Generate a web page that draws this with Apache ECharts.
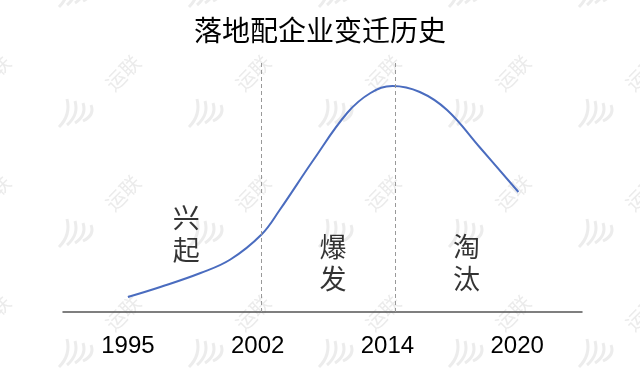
<!DOCTYPE html>
<html>
<head>
<meta charset="utf-8">
<script src="https://cdn.jsdelivr.net/npm/echarts@6/dist/echarts.min.js"></script>
<style>html,body{margin:0;padding:0;background:#fff;}#chart{width:640px;height:377px;}</style>
</head>
<body>
<div id="chart"></div>
<script>
// Data
var categories = ['1995', '2002', '2014', '2020'];
// curve: x as position along the category axis (0..4, band centres at 0.5,1.5,2.5,3.5), y as relative level
var curveX = [0.5, 0.75, 1.06, 1.29, 1.53, 1.67, 1.93, 2.19, 2.37, 2.54, 2.75, 2.96, 3.21, 3.51];
var curveY = [6, 10, 15.6, 21, 31, 40.8, 60.8, 79.6, 87.6, 90.4, 88, 80.8, 66, 48];
var dividerX = [1.53, 2.56];
var phaseLabels = ['兴起', '爆发', '淘汰'];
var phaseX = [0.95, 2.08, 3.11];
var phaseY = [31.2, 19.8, 19.8];
var watermarkText = '运联';

var chart = echarts.init(document.getElementById('chart'), null, {renderer: 'canvas'});
var cjk = '"PingFang SC","Noto Sans CJK SC","Liberation Sans",sans-serif';
var curveData = curveX.map(function (x, i) { return [x, curveY[i]]; });
var phaseData = phaseX.map(function (x, i) { return {value: [x, phaseY[i]], name: phaseLabels[i]}; });

// faint background watermark pattern
var wm = [];
var cols = [-53, 77, 207, 337, 467, 597];
var rows = [-7, 113, 233, 353];
cols.forEach(function (lx) {
  rows.forEach(function (ly) {
    wm.push({
      type: 'text', x: lx + 46, y: ly - 40, rotation: Math.PI / 4, z: -10, silent: true,
      style: {text: watermarkText, fill: '#ebebeb', font: '20px "Noto Sans CJK SC", sans-serif', align: 'center', verticalAlign: 'middle'}
    });
    for (var k = 0; k < 4; k++) {
      var ox = lx - 14 + k * 8, oy = ly;
      wm.push({
        type: 'bezierCurve', z: -10, silent: true,
        shape: {x1: ox - 4, y1: oy + 14 - k * 2, x2: ox + 4, y2: oy - 14 + k * 2, cpx1: ox + 8, cpy1: oy + 2},
        style: {stroke: '#ececec', lineWidth: 3, fill: null}
      });
    }
  });
});

var option = {
  backgroundColor: '#fff',
  animation: false,
  graphic: wm,
  title: {
    text: '落地配企业变迁历史',
    left: 'center',
    top: 11,
    textStyle: {fontFamily: cjk, fontSize: 28, fontWeight: 'normal', color: '#000'}
  },
  grid: {left: 63, right: 58, top: 62, bottom: 65},
  xAxis: [{
    type: 'category',
    data: categories,
    boundaryGap: true,
    axisLine: {lineStyle: {color: '#555', width: 1.5}},
    axisTick: {show: false},
    axisLabel: {fontFamily: '"Liberation Sans",Arial,sans-serif', fontSize: 24, color: '#000', margin: 22}
  }, {
    type: 'value', min: 0, max: 4, show: false
  }],
  yAxis: {type: 'value', min: 0, max: 100, show: false},
  series: [{
    type: 'line',
    xAxisIndex: 1,
    data: curveData,
    smooth: 0.4,
    showSymbol: false,
    lineStyle: {color: '#4a6cbf', width: 2},
    markLine: {
      silent: true,
      symbol: 'none',
      label: {show: false},
      lineStyle: {color: '#999', type: [4, 3], width: 1},
      data: dividerX.map(function (x) { return [{coord: [x, 0.0]}, {coord: [x, 100]}]; })
    }
  }, {
    type: 'scatter',
    xAxisIndex: 1,
    data: phaseData,
    symbolSize: 0,
    label: {
      show: true,
      position: 'inside',
      formatter: function (p) { return p.name.split('').join('\n'); },
      fontFamily: cjk, fontSize: 27, lineHeight: 32, color: '#000'
    }
  }]
};
chart.setOption(option);
</script>
</body>
</html>
